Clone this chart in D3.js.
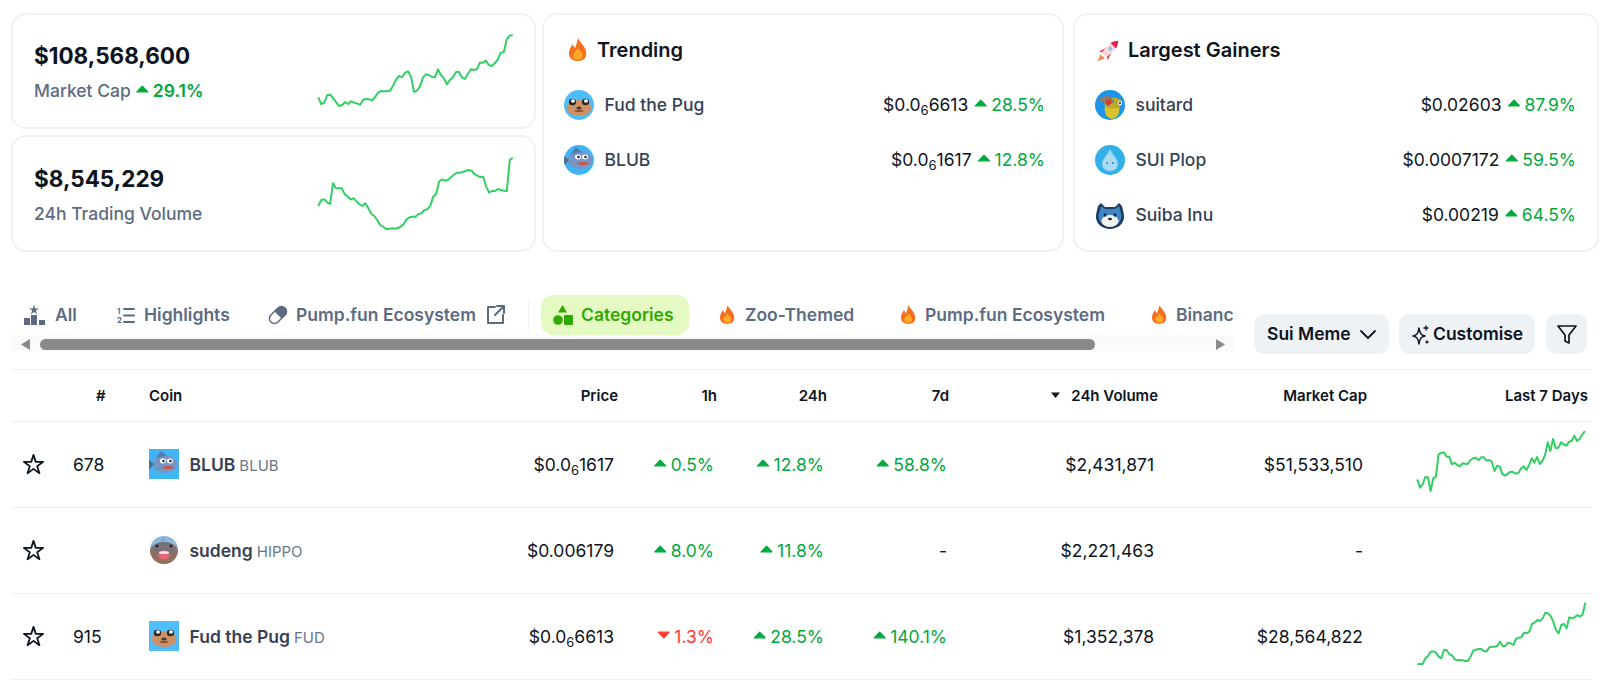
<!DOCTYPE html>
<html>
<head>
<meta charset="utf-8">
<script src="https://cdn.jsdelivr.net/npm/d3@7"></script>
<style>
	html, body { margin: 0; padding: 0; background: #fff; }
	svg { display: block; }
	text { font-family: Inter, "Noto Sans", sans-serif; }
</style>
</head>
<body>
<svg id="page" width="1603" height="680"></svg>
<script>
// sparkline values, index units
var marketCapSeries = [68,48,52,75,76,65,53,42,45,54,48,56,52,49,46,61,63,62,59,69,82,87,86,86,88,103,121,132,128,142,146,130,84,88,100,128,137,135,129,128,152,135,125,107,120,128,143,145,128,123,138,152,150,152,172,172,178,165,162,170,182,202,203,242,253,255];
var volumeSeries = [102,120,122,113,108,170,155,155,155,137,130,122,125,115,107,102,110,95,78,72,60,45,40,33,33,35,34,36,40,48,62,68,70,70,78,80,90,92,102,130,138,175,182,178,180,188,195,202,202,204,207,210,208,198,193,188,190,160,142,147,147,153,150,148,147,240,247];
var blubSeries = [137,112,122,144,143,102,140,145,212,216,218,205,205,182,187,180,176,185,184,183,195,200,202,194,203,203,193,195,190,162,178,175,152,148,154,160,159,154,156,170,176,165,180,200,187,204,183,192,210,248,222,258,230,232,248,242,238,250,252,268,252,258,272,282];
var fudSeries = [107,108,108,125,132,145,146,142,130,125,150,150,138,134,122,119,120,119,117,117,130,148,151,153,153,146,146,158,160,160,162,175,162,162,172,170,165,183,187,188,202,200,205,228,232,240,237,245,262,260,252,235,210,200,225,228,215,248,245,248,255,250,256,292];

var trendingNames = ['Fud the Pug', 'BLUB'];
var trendingIcons = ['pug', 'blub'];
var trendingPrices = ['$0.0|6|6613', '$0.0|6|1617'];
var trendingChanges = [28.5, 12.8];

var gainerNames = ['suitard', 'SUI Plop', 'Suiba Inu'];
var gainerIcons = ['suitard', 'plop', 'suiba'];
var gainerPrices = ['$0.02603', '$0.0007172', '$0.00219'];
var gainerChanges = [87.9, 59.5, 64.5];

var tableHeaders = ['Price', '1h', '24h', '7d', '24h Volume', 'Market Cap', 'Last 7 Days'];
var coinNames = ['BLUB', 'sudeng', 'Fud the Pug'];
var coinSymbols = ['BLUB', 'HIPPO', 'FUD'];
var coinIcons = ['blub', 'hippo', 'pug'];
var coinRanks = ['678', '', '915'];
var coinPrices = ['$0.0|6|1617', '$0.006179', '$0.0|6|6613'];
var change1h = [0.5, 8.0, -1.3];
var change24h = [12.8, 11.8, 28.5];
var change7d = [58.8, null, 140.1];
var coinVolumes = [2431871, 2221463, 1352378];
var coinMarketCaps = [51533510, null, 28564822];
var coinSeries = [blubSeries, null, fudSeries];

var svg = d3.select('#page');
var defs = svg.append('defs');
var INK = '#0d1421', SLATE = '#364154', GREY = '#5d6b82', UP = '#00a83e', DOWN = '#ff3a33', LINE = '#eff2f5';
var BODY = 17.5, SMALL = 15;
var money = d3.format('$,');
var pct = d3.format('.1f');
var clipCount = 0;

function label(x, y, str, size, weight, color, anchor) {
	return svg.append('text')
		.attr('x', x).attr('y', y)
		.attr('font-size', size).attr('font-weight', weight)
		.attr('fill', color).attr('text-anchor', anchor || 'start')
		.text(str);
}

function priceLabel(x, y, str) {
	var parts = str.split('|');
	var t = label(x, y, null, BODY, 400, INK, 'end');
	t.append('tspan').text(parts[0]);
	if (parts.length > 1) {
		t.append('tspan').attr('font-size', 13).attr('dy', 4).text(parts[1]);
		t.append('tspan').attr('dy', -4).text(parts[2]);
	}
	return t;
}

function caret(x, cy, up) {
	var w = 5.5, h = up ? -2.8 : 2.8;
	svg.append('path')
		.attr('d', 'M' + (x - w) + ',' + (cy - h) + 'L' + (x + w) + ',' + (cy - h) + 'L' + x + ',' + (cy + h) + 'Z')
		.attr('fill', up ? UP : DOWN)
		.attr('stroke', up ? UP : DOWN)
		.attr('stroke-width', 1.2)
		.attr('stroke-linejoin', 'round');
}

// draws "^ 12.8%" ending at x, gives back the left edge of the caret
function changeLabel(x, y, value) {
	if (value === null) {
		label(x, y, '-', BODY, 400, INK, 'end');
		return x;
	}
	var t = label(x, y, pct(Math.abs(value)) + '%', BODY, 400, value < 0 ? DOWN : UP, 'end');
	var left = x - t.node().getComputedTextLength();
	caret(left - 10.5, y - 8, value >= 0);
	return left - 17;
}

function sparkline(series, x0, x1, top) {
	var x = d3.scaleLinear().domain([0, series.length - 1]).range([x0, x1]);
	var y = d3.scaleLinear().domain([0, 300]).range([top + 100, top]);
	var line = d3.line().x(function(d, i) { return x(i); }).y(function(d) { return y(d); });
	svg.append('path').datum(series)
		.attr('d', line)
		.attr('fill', 'none')
		.attr('stroke', '#33cf63')
		.attr('stroke-width', 2)
		.attr('stroke-linejoin', 'round');
}

function card(x, y, w, h) {
	svg.append('rect').attr('x', x).attr('y', y).attr('width', w).attr('height', h)
		.attr('rx', 14).attr('fill', '#fff').attr('stroke', LINE).attr('stroke-width', 2);
}

function flame(x, y, s) {
	var g = svg.append('g').attr('transform', 'translate(' + x + ',' + y + ') scale(' + s + ')');
	g.append('path').attr('fill', '#f4701e')
		.attr('d', 'M8,0C9,4 15,7 15,13.5C15,18 12,20 8,20C3.500,20 0,18 0,13C0,9.500 2,7.500 3,5.500C4,7 4.500,8 5.500,8.500C6.500,6 7,3 8,0Z');
	g.append('path').attr('fill', '#ffa92b')
		.attr('d', 'M7.800,9C9,11 11.800,12.500 11.800,15C11.800,17.500 10,19 7.700,19C5.200,19 3.500,17.500 3.500,15C3.500,12.800 6.500,11.500 7.800,9Z');
}

function coinIcon(kind, cx, cy, square) {
	var id = 'clip' + (clipCount++);
	var clip = defs.append('clipPath').attr('id', id);
	if (square)
		clip.append('rect').attr('x', -15).attr('y', -15).attr('width', 30).attr('height', 30);
	else
		clip.append('circle').attr('r', kind === 'hippo' ? 14 : 15);
	var g = svg.append('g').attr('transform', 'translate(' + cx + ',' + cy + ')').attr('clip-path', 'url(#' + id + ')');

	function ell(x, y, rx, ry, fill) {
		g.append('ellipse').attr('cx', x).attr('cy', y).attr('rx', rx).attr('ry', ry).attr('fill', fill);
	}
	function bg(fill) {
		g.append('rect').attr('x', -15).attr('y', -15).attr('width', 30).attr('height', 30).attr('fill', fill);
	}

	switch (kind) {
	case 'pug':
		bg('#4fbdfb');
		ell(0, 3, 12.5, 8, '#cb9268');
		ell(-6.5, -3, 3.6, 3.2, '#2d2420');
		ell(6.5, -3, 3.6, 3.2, '#2d2420');
		ell(-6, -4, 2, 1.7, '#fff');
		ell(7, -4, 2, 1.7, '#fff');
		ell(0, 3, 2.6, 1.5, '#4e3326');
		ell(0, 6, 4.5, 1, '#8a5036');
		break;
	case 'blub':
		bg('#3fb6f3');
		ell(1, 0, 12.5, 9, '#7696c6');
		g.append('path').attr('d', 'M-8,-6L-3,-13L3,-8Z').attr('fill', '#557aa9');
		g.append('path').attr('d', 'M-10,0L-16,-5L-15,6Z').attr('fill', '#4d6a90');
		ell(-1, -3, 3, 2.400, '#fff');
		ell(6, -3, 3, 2.400, '#fff');
		ell(-0.500, -3, 1.300, 1.300, '#1f2a3a');
		ell(6.500, -3, 1.300, 1.300, '#1f2a3a');
		ell(4, 3.500, 6, 1.500, '#d5503f');
		break;
	case 'hippo':
		bg('#8cb8dc');
		ell(0, 4, 15, 12, '#936f60');
		ell(0, -1, 11, 7, '#77727a');
		ell(0, 5, 6, 4.500, '#e7657a');
		ell(0, 2.500, 5, 1.500, '#f1e5df');
		ell(-1, -10, 1.800, 1.800, '#67a3e2');
		ell(-7, -4, 1.400, 1.400, '#222');
		ell(7, -4, 1.400, 1.400, '#222');
		break;
	case 'suitard':
		bg('#1e93ea');
		ell(2, 4, 7.500, 10, '#d9c32c');
		ell(3, -2, 9, 5.500, '#b9ac2b');
		g.append('path').attr('d', 'M-12,-6L-2,-10L5,-3L-3,0Z').attr('fill', '#8e7a66');
		g.append('path').attr('d', 'M-5,-3L0,-7L2,-2L-2,1Z').attr('fill', '#d23b2d');
		ell(10, -2, 2.200, 2.200, '#e7e7e0');
		ell(10, -2, 1, 1, '#222');
		break;
	case 'plop':
		bg('#2fb0e8');
		g.append('path').attr('d', 'M0,-11C2,-6 8,-1 8,4C8,8.500 4.500,11 0,11C-4.500,11 -8,8.500 -8,4C-8,-1 -2,-6 0,-11Z')
			.attr('fill', '#a9dcf4').attr('stroke', '#6bbfe6').attr('stroke-width', 1);
		ell(-2.800, 3, 0.900, 0.900, '#2b7db5');
		ell(2.800, 3, 0.900, 0.900, '#2b7db5');
		break;
	case 'suiba':
		g.append('path').attr('d', 'M-11,-14L-5,-8L5,-8L11,-14L14,0C15,9 7,14 0,14C-7,14 -15,9 -14,0Z').attr('fill', '#1f3c5f');
		g.append('path').attr('d', 'M-9,-9L-5,-6L5,-6L9,-9L11.500,0C12,7 6,12 0,12C-6,12 -12,7 -11.500,0Z').attr('fill', '#3f86c4');
		ell(0, 6, 8.500, 6, '#f5f2ec');
		ell(-5, 0, 1.400, 1.700, '#13243a');
		ell(5, 0, 1.400, 1.700, '#13243a');
		ell(0, 4, 2, 1.300, '#13243a');
		break;
	}
}

function rocket(x, y) {
	var g = svg.append('g').attr('transform', 'translate(' + x + ',' + y + ') rotate(45)');
	g.append('path').attr('d', 'M-3,9L3,9L0,16Z').attr('fill', '#f98a55');
	g.append('path').attr('d', 'M-6,8L-4,1L4,1L6,8L3,6L-3,6Z').attr('fill', '#e0234e');
	g.append('path').attr('d', 'M0,-13C4,-9 4.500,-3 3.500,7L-3.500,7C-4.500,-3 -4,-9 0,-13Z').attr('fill', '#f9d9df');
	g.append('path').attr('d', 'M0,-13C2.500,-10.500 3.500,-8 3.800,-6L-3.800,-6C-3.500,-8 -2.500,-10.500 0,-13Z').attr('fill', '#e0234e');
	g.append('circle').attr('cy', -2).attr('r', 2).attr('fill', '#7fc4ef');
}

function outline(d, stroke, width) {
	return svg.append('path').attr('d', d).attr('fill', 'none').attr('stroke', stroke || GREY)
		.attr('stroke-width', width || 2).attr('stroke-linecap', 'round').attr('stroke-linejoin', 'round');
}

// top cards
card(12, 14, 523, 114);
card(12, 136, 523, 115);
card(543, 14, 520, 237);
card(1074, 14, 524, 237);

label(34, 64, '$108,568,600', 22.5, 700, INK);
var mc = label(34, 97, 'Market Cap', BODY, 500, GREY);
var mcEnd = 34 + mc.node().getComputedTextLength();
label(mcEnd + 22, 97, '29.1%', BODY, 600, UP);
caret(mcEnd + 11.5, 89, true);
sparkline(marketCapSeries, 318.3, 512.7, 20);

label(34, 187, '$8,545,229', 22.5, 700, INK);
label(34, 220, '24h Trading Volume', BODY, 500, GREY);
sparkline(volumeSeries, 318.3, 512.7, 140);

flame(569, 38, 1.15);
label(597, 57, 'Trending', 20, 600, INK);
rocket(1109, 50);
label(1128, 57, 'Largest Gainers', 20, 600, INK);

function moverRows(names, icons, prices, changes, iconX, right) {
	names.forEach(function(name, i) {
		var cy = 105 + i * 55;
		coinIcon(icons[i], iconX, cy, false);
		label(iconX + 25.500, cy + 6, name, BODY, 500, SLATE);
		var left = changeLabel(right, cy + 6, changes[i]);
		priceLabel(left - 6, cy + 6, prices[i]);
	});
}
moverRows(trendingNames, trendingIcons, trendingPrices, trendingChanges, 579, 1045);
moverRows(gainerNames, gainerIcons, gainerPrices, gainerChanges, 1110, 1576);

// tab strip
svg.append('rect').attr('x', 541).attr('y', 295).attr('width', 148).attr('height', 40).attr('rx', 12).attr('fill', '#e5fac3');
svg.append('rect').attr('x', 528).attr('y', 300).attr('width', 1).attr('height', 30).attr('fill', LINE);

// podium icon
[[24, 318, 6, 7], [31, 315, 6, 10], [39, 320, 6, 5]].forEach(function(b) {
	svg.append('rect').attr('x', b[0]).attr('y', b[1]).attr('width', b[2]).attr('height', b[3]).attr('fill', GREY);
});
svg.append('path').attr('d', d3.symbol(d3.symbolStar, 30)()).attr('transform', 'translate(34,310)').attr('fill', GREY);
label(55, 321, 'All', BODY, 600, GREY);

// numbered list icon
label(117, 314, '1', 8, 700, GREY);
label(117, 323, '2', 8, 700, GREY);
outline('M124,309H134M124,315.500H134M124,322H134');
label(144, 321, 'Highlights', BODY, 600, GREY);

// pill icon
svg.append('g').attr('transform', 'translate(278,315) rotate(-45)').call(function(g) {
	g.append('rect').attr('x', -10).attr('y', -5).attr('width', 20).attr('height', 10).attr('rx', 5)
		.attr('fill', '#fff').attr('stroke', GREY).attr('stroke-width', 1.5);
	g.append('path').attr('d', 'M0,-5H5A5,5 0 0 1 5,5H0Z').attr('fill', GREY);
});
label(296, 321, 'Pump.fun Ecosystem', BODY, 600, GREY);
outline('M495,307H488V323H503V315M497,306H504V313M504,306L495,315');

// categories shapes
svg.append('path').attr('d', 'M562.500,305L567,312.500H558Z').attr('fill', '#32a900');
svg.append('circle').attr('cx', 558).attr('cy', 320).attr('r', 4.800).attr('fill', '#32a900');
svg.append('rect').attr('x', 564).attr('y', 315).attr('width', 9).attr('height', 10).attr('rx', 1).attr('fill', '#32a900');
label(581, 321, 'Categories', BODY, 600, '#32a900');

flame(720, 305, 0.95);
label(745, 321, 'Zoo-Themed', BODY, 600, GREY);
flame(901, 305, 0.95);
label(925, 321, 'Pump.fun Ecosystem', BODY, 600, GREY);
flame(1152, 305, 0.95);
defs.append('clipPath').attr('id', 'tabclip').append('rect').attr('x', 1170).attr('y', 300).attr('width', 63).attr('height', 30);
label(1176, 321, 'Binance Alpha', BODY, 600, GREY).attr('clip-path', 'url(#tabclip)');

// scrollbar
svg.append('rect').attr('x', 11).attr('y', 335).attr('width', 1223).attr('height', 16).attr('fill', '#fafafa');
svg.append('rect').attr('x', 40).attr('y', 339).attr('width', 1055).attr('height', 11).attr('rx', 5.500).attr('fill', '#8a8a8a');
svg.append('path').attr('d', 'M21,344.500L30,339V350Z').attr('fill', '#8a8a8a');
svg.append('path').attr('d', 'M1225,344.500L1216,339V350Z').attr('fill', '#8a8a8a');

// buttons
[[1254, 135], [1399, 136], [1546, 41]].forEach(function(b) {
	svg.append('rect').attr('x', b[0]).attr('y', 314).attr('width', b[1]).attr('height', 40).attr('rx', 10).attr('fill', LINE);
});
label(1267, 340, 'Sui Meme', BODY, 600, INK);
outline('M1361,331L1368,338L1375,331', INK, 1.800);
outline('M1419,328C1420,334 1421,335 1425,336C1421,337 1420,338 1419,344C1418,338 1417,337 1413,336C1417,335 1418,334 1419,328Z', INK, 1.500);
outline('M1426,326V330M1424,328H1428M1427,341V343M1426,342H1428', INK, 1.300);
label(1433, 340, 'Customise', BODY, 600, INK);
outline('M1558,326H1576L1569,335V343L1565,341V335Z', INK, 1.700);

// table
[369, 421, 507, 593, 679].forEach(function(y) {
	svg.append('rect').attr('x', 11).attr('y', y).attr('width', 1581).attr('height', 1).attr('fill', LINE);
});

label(96, 401, '#', SMALL, 600, INK);
label(149, 401, 'Coin', SMALL, 600, INK);
var headerRight = [618, 717, 827, 949, 1158, 1367, 1588];
tableHeaders.forEach(function(h, i) {
	label(headerRight[i], 401, h, SMALL, 600, INK, 'end');
});
svg.append('path').attr('d', 'M1051,392.500H1060L1055.500,398Z').attr('fill', INK);

coinNames.forEach(function(name, i) {
	var cy = 465 + i * 86;
	var base = cy + 6;
	svg.append('path').attr('d', d3.symbol(d3.symbolStar, 115)())
		.attr('transform', 'translate(33.500,' + cy + ')')
		.attr('fill', 'none').attr('stroke', INK).attr('stroke-width', 1.800).attr('stroke-linejoin', 'round');
	label(73, base, coinRanks[i], BODY, 400, INK);
	coinIcon(coinIcons[i], 164, cy - 1, coinIcons[i] !== 'hippo');
	var n = label(189.500, base, name, BODY, 600, SLATE);
	label(189.500 + n.node().getComputedTextLength() + 4, base, coinSymbols[i], SMALL, 400, '#68778d');
	priceLabel(614, base, coinPrices[i]);
	changeLabel(714, base, change1h[i]);
	changeLabel(824, base, change24h[i]);
	changeLabel(947, base, change7d[i]);
	label(1154, base, money(coinVolumes[i]), BODY, 400, INK, 'end');
	label(1363, base, coinMarketCaps[i] === null ? '-' : money(coinMarketCaps[i]), BODY, 400, INK, 'end');
});
sparkline(coinSeries[0], 1417.3, 1585, 425);
sparkline(coinSeries[2], 1417.3, 1585.300, 600);
</script>
</body>
</html>
